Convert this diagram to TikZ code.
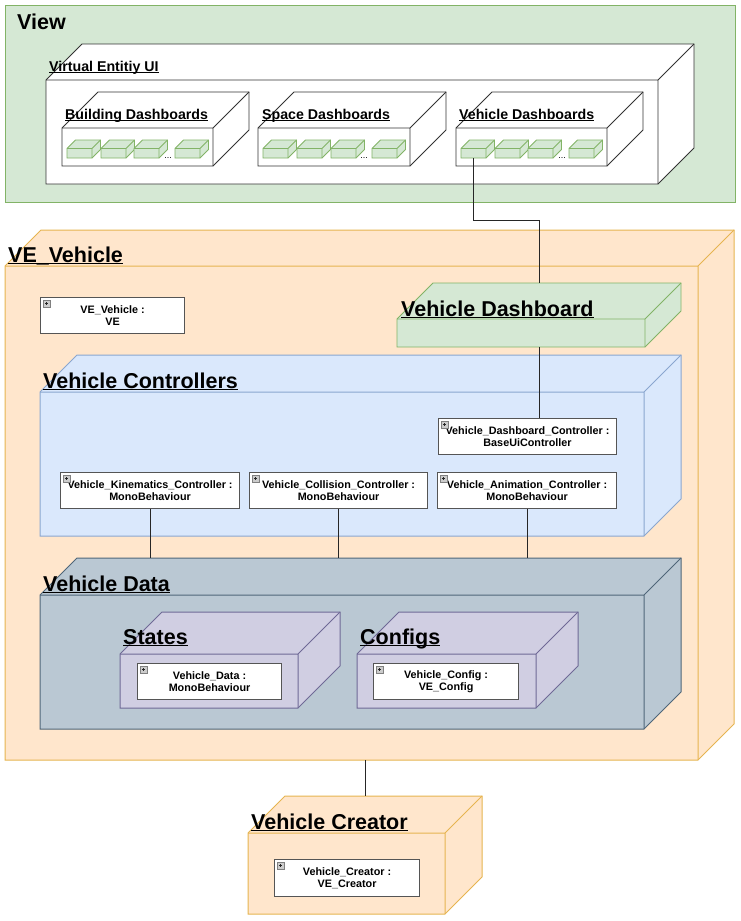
\documentclass[tikz,border=0pt]{standalone}
\usepackage{fontspec}
\setmainfont{Liberation Sans}
\usetikzlibrary{fit,calc}
\definecolor{gfill}{HTML}{D5E8D4}
\definecolor{gline}{HTML}{82B366}
\definecolor{ofill}{HTML}{FFE6CC}
\definecolor{oline}{HTML}{E6B450}
\definecolor{bfill}{HTML}{DAE8FC}
\definecolor{bline}{HTML}{8AA6CF}
\definecolor{sfill}{HTML}{BAC8D3}
\definecolor{sline}{HTML}{4F6679}
\definecolor{pfill}{HTML}{D0CEE2}
\definecolor{pline}{HTML}{6F6996}
\definecolor{objline}{HTML}{555555}
\newcommand\ulx[3]{\setbox0\hbox{#3}\rlap{\rule[-#1]{\wd0}{#2}}\box0}
% name, x1, y1, x2, y2, depth, style
\newcommand\cubebox[7]{%
  \path[#7] (#2,#3) -- (#2+#6,#3-#6) -- (#4+#6,#3-#6) -- (#4+#6,#5-#6) -- (#4,#5) -- (#2,#5) -- cycle;
  \draw[#7, fill=none] (#2,#3) -- (#4,#3) -- (#4,#5) (#4,#3) -- (#4+#6,#3-#6);
  \node[inner sep=0, fit={(#2,#3) (#4,#5)}] (#1) {};
  \node[inner sep=0, fit={(#2,#3-#6) (#4+#6,#5)}] (#1b) {};
}
% name, x1, y1, x2, y2, text
\newcommand\objbox[6]{%
  \node[objb, minimum width={#4-#2}, minimum height={#5-#3}, anchor=north west] (#1) at (#2,#3) {#6};
  \filldraw[draw=gray, fill=black!20, line width=0.6pt] ($(#1.north west)+(3,3)$) rectangle ++(7,7);
  \fill[black!85] ($(#1.north west)+(4.6,5.6)$) rectangle ++(3.8,1.8);
  \fill[black!85] ($(#1.north west)+(5.6,4.6)$) rectangle ++(1.8,3.8);
}
\tikzset{
  cgreen/.style={fill=gfill, draw=gline, line width=0.9pt},
  cwhite/.style={fill=white, draw=black!80, line width=0.9pt},
  corange/.style={fill=ofill, draw=oline, line width=1pt},
  cblue/.style={fill=bfill, draw=bline, line width=1pt},
  cslate/.style={fill=sfill, draw=sline, line width=1pt},
  cpurple/.style={fill=pfill, draw=pline, line width=1pt},
  objb/.style={draw=objline, fill=white, line width=1.1pt, inner sep=0, align=center,
    font=\fontsize{10.8}{12}\selectfont\bfseries},
  biglbl/.style={anchor=base west, inner sep=0, font=\fontsize{21.5}{24}\selectfont\bfseries},
  midlbl/.style={anchor=base west, inner sep=0, font=\fontsize{14.2}{16}\selectfont\bfseries},
  dots/.style={anchor=base, inner sep=0, font=\fontsize{9}{10}\selectfont},
  conn/.style={draw=black!85, line width=0.9pt},
}
\begin{document}
\begin{tikzpicture}[x=1pt, y=-1pt]
\useasboundingbox (0,0) rectangle (741,921);
% View
\filldraw[fill=gfill, draw=gline, line width=1pt] (5,5) rectangle (735,202);
\node[biglbl] (tview) at (17,29) {View};
\cubebox{veui}{46}{80}{658}{184}{36}{cwhite}
\node[midlbl] (tveui) at (49,71) {\ulx{2pt}{1pt}{Virtual Entitiy UI}};
\cubebox{bdash}{62}{128}{213}{166}{36}{cwhite}
\cubebox{sdash}{258}{128}{410}{166}{36}{cwhite}
\cubebox{vdashs}{456}{128}{607}{166}{36}{cwhite}
\node[midlbl] (tbdash) at (65,119) {\ulx{2pt}{1pt}{Building Dashboards}};
\node[midlbl] (tsdash) at (262,119) {\ulx{2pt}{1pt}{Space Dashboards}};
\node[midlbl] (tvdash) at (459,119) {\ulx{2pt}{1pt}{Vehicle Dashboards}};
% small dashboards
\cubebox{b1}{67}{148.5}{92}{158}{8.5}{cgreen}
\cubebox{b2}{101}{148.5}{126}{158}{8.5}{cgreen}
\cubebox{b3}{134}{148.5}{159}{158}{8.5}{cgreen}
\cubebox{b4}{175}{148.5}{200}{158}{8.5}{cgreen}
\node[dots] (bdots) at (168,158) {...};
\cubebox{s1}{263}{148.5}{288}{158}{8.5}{cgreen}
\cubebox{s2}{297}{148.5}{322}{158}{8.5}{cgreen}
\cubebox{s3}{331}{148.5}{356}{158}{8.5}{cgreen}
\cubebox{s4}{372}{148.5}{397}{158}{8.5}{cgreen}
\node[dots] (sdots) at (364,158) {...};
\cubebox{v1}{461}{148.5}{486}{158}{8.5}{cgreen}
\cubebox{v2}{495}{148.5}{520}{158}{8.5}{cgreen}
\cubebox{v3}{528}{148.5}{553}{158}{8.5}{cgreen}
\cubebox{v4}{569}{148.5}{594}{158}{8.5}{cgreen}
\node[dots] (vdots) at (562,158) {...};
% VE_Vehicle
\cubebox{vev}{5}{266}{698}{760}{36}{corange}
\node[biglbl] (tvev) at (8,262) {\ulx{2.2pt}{1.3pt}{VE\_Vehicle}};
\objbox{vevobj}{40}{297}{184}{333}{VE\_Vehicle :\\VE}
% Vehicle Dashboard
\cubebox{vdash}{397}{319}{645}{347}{36}{cgreen}
\node[biglbl] (tvdashb) at (401,316) {\ulx{2.2pt}{1.3pt}{Vehicle Dashboard}};
% Vehicle Controllers
\cubebox{vctl}{40}{392}{644}{536}{37}{cblue}
\node[biglbl] (tvctl) at (43,388) {\ulx{2.2pt}{1.3pt}{Vehicle Controllers}};
\objbox{dctl}{438}{418}{616}{454}{Vehicle\_Dashboard\_Controller :\\BaseUiController}
\objbox{kin}{60}{472}{239}{508}{Vehicle\_Kinematics\_Controller :\\MonoBehaviour}
\objbox{col}{249}{472}{427}{508}{Vehicle\_Collision\_Controller :\\MonoBehaviour}
\objbox{anim}{437}{472}{616}{508}{Vehicle\_Animation\_Controller :\\MonoBehaviour}
% Vehicle Data
\cubebox{vdata}{40}{595}{644}{729}{37}{cslate}
\node[biglbl] (tvdata) at (43,591) {\ulx{2.2pt}{1.3pt}{Vehicle Data}};
\cubebox{states}{120}{654}{298}{708}{42}{cpurple}
\node[biglbl] (tstates) at (123,644) {\ulx{2.2pt}{1.3pt}{States}};
\objbox{vdobj}{137}{663}{281}{699}{Vehicle\_Data :\\MonoBehaviour}
\cubebox{configs}{357}{654}{536}{708}{42}{cpurple}
\node[biglbl] (tconfigs) at (360,644) {\ulx{2.2pt}{1.3pt}{Configs}};
\objbox{vcfg}{373}{663}{518}{699}{Vehicle\_Config :\\VE\_Config}
% Vehicle Creator
\cubebox{vcre}{248}{833}{445}{914}{37}{corange}
\node[biglbl] (tvcre) at (251,829) {\ulx{2.2pt}{1.3pt}{Vehicle Creator}};
\objbox{vcreobj}{274}{859}{419}{896}{Vehicle\_Creator :\\VE\_Creator}
% connectors
\draw[conn] (v1.south) |- ($(v1.south)!.5!(vdashb.north)$) -| (vdashb.north);
\draw[conn] (vdashb.south) -- (vdashb.south |- dctl.north);
\draw[conn] (kin.south) -- (kin.south |- vdatab.north);
\draw[conn] (col.south) -- (col.south |- vdatab.north);
\draw[conn] (anim.south) -- (anim.south |- vdatab.north);
\draw[conn] (vcreb.north) -- (vcreb.north |- vevb.south);
\end{tikzpicture}
\end{document}
